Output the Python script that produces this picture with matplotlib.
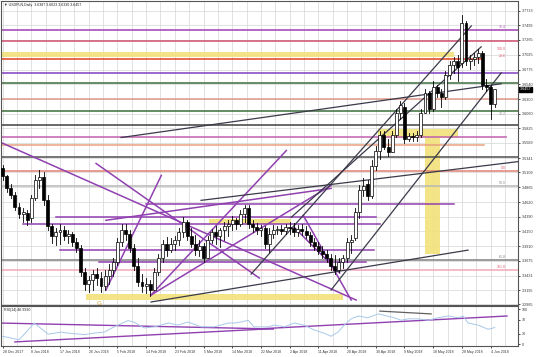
import matplotlib
matplotlib.use("Agg")
import matplotlib.pyplot as plt
from matplotlib.patches import Rectangle

# ---------------- data ----------------
opens = [3.5173,3.5044,3.4849,3.4736,3.4542,3.4428,3.4444,3.4363,3.4687,3.4979,
 3.5028,3.4655,3.4234,3.4072,3.4137,3.4169,3.4072,3.4104,3.3975,3.3877,
 3.3489,3.3294,3.3359,3.3456,3.3391,3.3262,3.3424,3.3521,3.3651,3.3975,
 3.4169,3.4104,3.3877,3.3586,3.3327,3.3262,3.3294,3.3197,3.3489,3.3715,
 3.3942,3.3845,3.3942,3.4007,3.4137,3.4299,3.4072,3.3942,3.3845,3.3910,
 3.3715,3.4007,3.4137,3.4072,3.4169,3.4234,3.4266,3.4331,3.4266,3.4428,
 3.4525,3.4266,3.4218,3.4169,3.4201,3.3942,3.4104,3.4169,3.4185,3.4153,
 3.4218,3.4201,3.4137,3.4185,3.4153,3.4088,3.3975,3.3910,3.3829,3.3780,
 3.3715,3.3586,3.3521,3.3651,3.3715,3.3975,3.4039,3.4461,3.4817,3.4914,
 3.4720,3.5206,3.5465,3.5724,3.5530,3.5433,3.5724,3.6081,3.6178,3.5659,
 3.5708,3.5692,3.5724,3.6081,3.6405,3.6145,3.6502,3.6405,3.6340,3.6696,
 3.6858,3.6923,3.6891,3.7539,3.6923,3.6955,3.6988,3.7053,3.6534,3.6502,
 3.6226]
highs = [3.5222,3.5060,3.4914,3.4785,3.4606,3.4525,3.4493,3.4736,3.5060,3.5141,
 3.5109,3.4736,3.4266,3.4201,3.4266,3.4234,3.4169,3.4137,3.4039,3.3926,
 3.3553,3.3424,3.3521,3.3553,3.3489,3.3521,3.3618,3.3715,3.4039,3.4266,
 3.4266,3.4169,3.3942,3.3715,3.3456,3.3391,3.3359,3.3553,3.3780,3.4007,
 3.4056,3.4039,3.4072,3.4201,3.4380,3.4331,3.4201,3.4088,3.4007,3.3958,
 3.4072,3.4185,3.4234,3.4201,3.4299,3.4331,3.4396,3.4363,3.4493,3.4574,
 3.4574,3.4331,3.4282,3.4250,3.4234,3.4201,3.4250,3.4234,3.4250,3.4266,
 3.4299,3.4282,3.4250,3.4266,3.4234,3.4137,3.4039,3.3975,3.3910,3.3845,
 3.3780,3.3764,3.3715,3.3764,3.4039,3.4088,3.4525,3.4898,3.5011,3.4979,
 3.5303,3.5546,3.5789,3.5789,3.5659,3.5789,3.6145,3.6275,3.6243,3.5757,
 3.5757,3.5789,3.6145,3.6469,3.6437,3.6599,3.6534,3.6469,3.6761,3.6923,
 3.6988,3.7020,3.7668,3.7571,3.7020,3.7053,3.7117,3.7085,3.6631,3.6534,
 3.6469]
lows = [3.4979,3.4785,3.4687,3.4493,3.4363,3.4299,3.4250,3.4299,3.4655,3.4849,
 3.4574,3.4169,3.3958,3.3926,3.3942,3.4007,3.3958,3.3910,3.3813,3.3424,
 3.3197,3.3165,3.3197,3.3278,3.3165,3.3197,3.3294,3.3424,3.3602,3.3910,
 3.4007,3.3813,3.3521,3.3262,3.3165,3.3148,3.3100,3.3197,3.3440,3.3651,
 3.3748,3.3813,3.3845,3.3926,3.4056,3.4007,3.3894,3.3764,3.3748,3.3651,
 3.3715,3.3958,3.3942,3.3894,3.4007,3.4072,3.4169,3.4185,3.4234,3.4299,
 3.4201,3.4137,3.4104,3.4072,3.3877,3.3813,3.4039,3.4104,3.4104,3.4104,
 3.4104,3.4072,3.4072,3.4088,3.4039,3.3910,3.3845,3.3780,3.3715,3.3651,
 3.3521,3.3456,3.3489,3.3553,3.3651,3.3796,3.4007,3.4363,3.4720,3.4655,
 3.4687,3.5141,3.5335,3.5497,3.5368,3.5433,3.5692,3.5983,3.5595,3.5627,
 3.5627,3.5627,3.5692,3.6081,3.6081,3.6113,3.6340,3.6178,3.6307,3.6631,
 3.6729,3.6599,3.6826,3.6858,3.6793,3.6858,3.6891,3.6469,3.6437,3.5983,
 3.6178]
closes = [3.5044,3.4849,3.4736,3.4542,3.4428,3.4461,3.4331,3.4687,3.4979,3.5028,
 3.4655,3.4234,3.4072,3.4137,3.4169,3.4072,3.4104,3.3975,3.3877,3.3489,
 3.3294,3.3359,3.3456,3.3391,3.3262,3.3424,3.3521,3.3651,3.3975,3.4169,
 3.4104,3.3877,3.3586,3.3327,3.3262,3.3294,3.3197,3.3489,3.3715,3.3942,
 3.3845,3.3942,3.4007,3.4137,3.4299,3.4072,3.3942,3.3845,3.3910,3.3715,
 3.4007,3.4137,3.4072,3.4169,3.4234,3.4266,3.4331,3.4266,3.4428,3.4525,
 3.4266,3.4218,3.4169,3.4201,3.3942,3.4104,3.4169,3.4185,3.4153,3.4218,
 3.4201,3.4137,3.4185,3.4153,3.4088,3.3975,3.3910,3.3829,3.3780,3.3715,
 3.3586,3.3521,3.3651,3.3715,3.3975,3.4007,3.4461,3.4817,3.4882,3.4720,
 3.5206,3.5465,3.5724,3.5530,3.5433,3.5724,3.6081,3.6210,3.5659,3.5708,
 3.5692,3.5724,3.6081,3.6405,3.6145,3.6502,3.6405,3.6340,3.6696,3.6858,
 3.6923,3.6826,3.7539,3.6923,3.6955,3.6988,3.7053,3.6534,3.6502,3.6226,
 3.6457]

rsi_x = [0,4,6.2,7.7,8.9,11.1,14.3,16,19.9,22.3,24.8,27.2,30.6,32.1,34.5,37,40.4,42.8,
 45.2,48.4,51.6,55,56.5,58.2,59.9,61.3,64.8,66.2,68.7,71.1,73.5,76,78.4,80.1,81.8,83.3,
 85,86.7,89.1,91.6,93,95.5,97.2,98.9,101.3,103.8,106.2,108.7,111.1,112.3,113.5,116,118.4,120]
rsi_v = [22,12,40,60,49,28,34,31,27,31,34,49,67,62,46,49,60,54,63,49,49,60,60,63,68,
 49,49,54,49,60,54,40,31,22,34,54,72,80,75,86,82,75,68,72,72,68,75,80,75,80,60,
 54,42,47]

date_labels = ["28 Dec 2017", "8 Jan 2018", "17 Jan 2018", "26 Jan 2018", "5 Feb 2018",
 "14 Feb 2018", "23 Feb 2018", "5 Mar 2018", "14 Mar 2018", "22 Mar 2018", "2 Apr 2018",
 "11 Apr 2018", "20 Apr 2018", "30 Apr 2018", "9 May 2018", "18 May 2018", "28 May 2018",
 "4 Jun 2018"]
price_ticks = ["3.7733", "3.7499", "3.7265", "3.7025", "3.6775", "3.6540", "3.6300", "3.6060",
 "3.5825", "3.5589", "3.5341", "3.5109", "3.4865", "3.4620", "3.4390", "3.4150", "3.3910",
 "3.3675", "3.3431", "3.3195", "3.2965"]
rsi_ticks = [100, 70, 30, 0]

# full-width horizontal levels
levels = [3.7417, 3.7239, 3.6729, 3.6559, 3.6299, 3.6113, 3.5886, 3.5352, 3.5125, 3.4882, 3.3683, 3.3521]
level_colors = ['#a040b0', '#d05070', '#8040c0', '#3c6e3c', '#e09888', '#3c6e3c', '#404040',
                '#505050', '#e08070', '#b8b8b8', '#808080', '#f0a8b8']
# Fibonacci level captions: (text, price)
fib_labels = [("76.4", 3.7435), ("100.0", 3.7085), ("23.6", 3.6975), ("38.2", 3.6030),
              ("0.0", 3.5145), ("50.0", 3.4900), ("61.8", 3.3700), ("161.8", 3.3540)]
fib_colors = ['#b060c0', '#e06070', '#e06070', '#909090', '#e06070', '#909090', '#808080', '#e06070']
# partial horizontal segments: (price, start bar, end bar)
segments = [(3.6955, -1, 116.7), (3.5684, -1, 122.8), (3.5554, -1, 117.4),
            (3.4590, 35, 110), (3.4388, 13, 91), (3.4266, 5, 92), (3.3853, 14, 90.6), (3.3651, 23.5, 88.7)]
segment_colors = ['#e04020', '#c060b0', '#e8a080', '#9040b0', '#9040b0', '#9040b0', '#9040b0', '#9040b0']
# trend lines: (bar0, price0, bar1, price1)
purple_trends = [(-0.4, 3.5595, 86.2, 3.3035),
                 (36.2, 3.3116, 69.2, 3.5465),
                 (36.2, 3.3116, 80.1, 3.4898),
                 (25.2, 3.3197, 38.7, 3.5060),
                 (25.2, 3.4331, 80.1, 3.4849),
                 (22.8, 3.5254, 62.6, 3.3392),
                 (73.3, 3.4412, 85.0, 3.3035),
                 (71.1, 3.4217, 82.2, 3.3473)]
dark_trends = [(28.9, 3.5676, 121.6, 3.6550),
               (36.2, 3.3003, 113.5, 3.3846),
               (48.4, 3.4655, 126, 3.5287),
               (60.6, 3.3456, 114.3, 3.7490),
               (70.4, 3.4380, 116.7, 3.7150),
               (80.1, 3.3197, 121.6, 3.6728)]

# ---------------- figure ----------------
plt.rcParams['font.family'] = ['Liberation Sans', 'DejaVu Sans']
W, H = 536, 357
fig = plt.figure(figsize=(W / 100, H / 100), dpi=100)
fig.patch.set_facecolor('white')
ax = fig.add_axes([0.002, 1 - 305 / H, 517 / W, 304 / H])
rx = fig.add_axes([0.002, 1 - 346 / H, 517 / W, 40 / H])

x0, x1 = -0.37, 125.7
ax.set_xlim(x0, x1)
ax.set_ylim(3.2954, 3.7895)

tick_vals = [float(t) for t in price_ticks]
gcol = '#d6d6d6'
for v in tick_vals:
    ax.axhline(v, color=gcol, lw=0.5, zorder=0)
k = 0.0
while k < x1:
    ax.axvline(k, color=gcol, lw=0.5, zorder=0)
    rx.axvline(k, color=gcol, lw=0.5, zorder=0)
    k += 3.5

# yellow zones
yc = '#f2e27a'
ax.add_patch(Rectangle((-1, 3.6988), 111, 3.7069 - 3.6988, color=yc, alpha=0.9, lw=0, zorder=1))
ax.add_patch(Rectangle((20.4, 3.3040), 62.5, 0.0085, color=yc, alpha=0.9, lw=0, zorder=1))
ax.add_patch(Rectangle((91.6, 3.5676), 19.5, 0.0140, color=yc, alpha=0.9, lw=0, zorder=1))
ax.add_patch(Rectangle((103, 3.3780), 3.6, 0.1900, color=yc, alpha=0.9, lw=0, zorder=1))
ax.add_patch(Rectangle((50.4, 3.4266), 20, 0.0090, color=yc, alpha=0.9, lw=0, zorder=1))
ax.text(23.5, 3.2985, 'G', color='#e0a030', fontsize=4.5, ha='center', va='center', zorder=2)

for v, c in zip(levels, level_colors):
    ax.plot([-1, 127], [v, v], color=c, lw=1.1, zorder=2)
for (v, a, b), c in zip(segments, segment_colors):
    ax.plot([a, b], [v, v], color=c, lw=1.1, zorder=2)
for (a, pa, b, pb) in purple_trends:
    ax.plot([a, b], [pa, pb], color='#9040b0', lw=1.1, zorder=2)
for (a, pa, b, pb) in dark_trends:
    ax.plot([a, b], [pa, pb], color='#3a3a4a', lw=0.9, zorder=2)
for (t, v), c in zip(fib_labels, fib_colors):
    ax.text(122.8, v, t, color=c, fontsize=2.6, ha='right', va='bottom', zorder=3)

# candles
bw = 0.72
for i, (o, h, l, c) in enumerate(zip(opens, highs, lows, closes)):
    ax.plot([i, i], [l, h], color='black', lw=0.6, zorder=4)
    lo, hi = min(o, c), max(o, c)
    face = 'white' if c >= o else 'black'
    ax.add_patch(Rectangle((i - bw / 2, lo), bw, max(hi - lo, 0.0004), facecolor=face,
                           edgecolor='black', lw=0.5, zorder=5))

ax.yaxis.tick_right()
ax.set_yticks(tick_vals)
ax.set_yticklabels(price_ticks, fontsize=2.7, color='#333333')
ax.tick_params(axis='y', length=1.5, pad=1.2, width=0.5)
ax.set_xticks([])
for s in ax.spines.values():
    s.set_linewidth(0.8)
    s.set_color('#555555')

ax.text(0.006, 0.993, '\u25bc USDPLN,Daily  3.6387 3.6623 3.6330 3.6457', transform=ax.transAxes,
        fontsize=2.6, va='top', ha='left', color='#222222')
# current price tag
ax.annotate('3.6457', xy=(1.0, 3.6457), xycoords=('axes fraction', 'data'), xytext=(1.2, 0),
            textcoords='offset points', fontsize=2.7, color='white', va='center', ha='left',
            bbox=dict(boxstyle='square,pad=0.2', fc='black', ec='black'), annotation_clip=False)

# RSI
rx.set_xlim(x0, x1)
rx.set_ylim(-5.7, 108.6)
rx.plot(rsi_x, rsi_v, color='#a8c8e8', lw=0.7, zorder=3)
rx.plot([-1, 66], [60, 43], color='#9040b0', lw=1.0)
rx.plot([3, 66], [6, 44], color='#9040b0', lw=1.0)
rx.plot([62, 123], [43, 80], color='#9040b0', lw=1.0)
rx.plot([92, 104.5], [94, 86], color='#606060', lw=0.9)
rx.yaxis.tick_right()
rx.set_yticks(rsi_ticks)
rx.set_yticklabels([str(t) for t in rsi_ticks], fontsize=2.6, color='#333333')
rx.tick_params(axis='y', length=1.5, pad=1.2, width=0.5)
rx.set_xticks([7 * j for j in range(len(date_labels))])
rx.set_xticklabels(date_labels, fontsize=2.5, ha='left', color='#333333')
rx.tick_params(axis='x', length=1.5, pad=1.5, width=0.5)
rx.text(0.006, 0.96, 'RSI(14) 46.9930', transform=rx.transAxes, fontsize=2.6, va='top', color='#222222')
for s in rx.spines.values():
    s.set_linewidth(0.8)
    s.set_color('#555555')

fig.savefig('out.png', dpi=100, facecolor='white')
